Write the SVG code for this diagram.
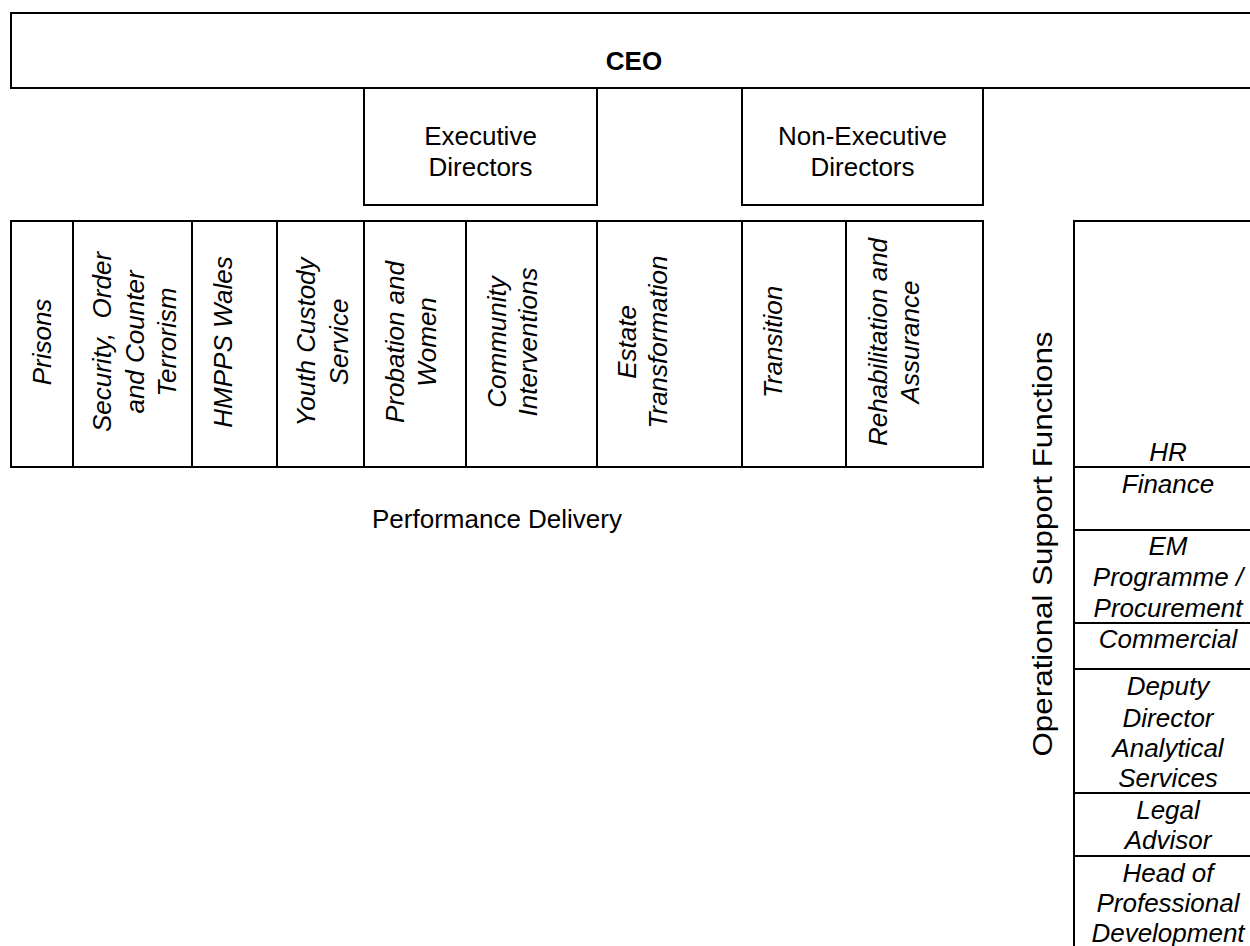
<svg xmlns="http://www.w3.org/2000/svg" width="1250" height="946" viewBox="0 0 1250 946">
<style>
.box{fill:#fff;stroke:#000;stroke-width:2}
.ln{fill:none;stroke:#000;stroke-width:2}
text{font-family:"Liberation Sans",Arial,sans-serif;font-size:26px;fill:#000}
.it{font-style:italic}
.c{text-anchor:middle}
.b{font-weight:bold}
</style>
<rect width="1250" height="946" fill="#fff"/>
<g id="ceo">
<rect class="box" x="11" y="13" width="1245" height="75"/>
<text class="c b" x="634" y="69.5">CEO</text>
</g>
<g id="executive-directors">
<rect class="box" x="364" y="88" width="233" height="117"/>
<text class="c" x="480.5" y="145">Executive</text>
<text class="c" x="480.5" y="176">Directors</text>
</g>
<g id="non-executive-directors">
<rect class="box" x="742" y="88" width="241" height="117"/>
<text class="c" x="862.5" y="145">Non-Executive</text>
<text class="c" x="862.5" y="176">Directors</text>
</g>
<g id="performance-delivery">
<rect class="box" x="11" y="221" width="972" height="246"/>
<g id="col-prisons"><line class="ln" x1="73" y1="221" x2="73" y2="467"/>
<text class="it c" transform="translate(0,342) rotate(-90)"><tspan x="0" y="50.5">Prisons</tspan></text></g>
<g id="col-security"><line class="ln" x1="192" y1="221" x2="192" y2="467"/>
<text class="it c" transform="translate(0,342) rotate(-90)" xml:space="preserve"><tspan x="0" y="111">Security,  Order</tspan><tspan x="0" y="143.5">and Counter</tspan><tspan x="0" y="176">Terrorism</tspan></text></g>
<g id="col-wales"><line class="ln" x1="277" y1="221" x2="277" y2="467"/>
<text class="it c" transform="translate(0,342) rotate(-90)"><tspan x="0" y="231.5">HMPPS Wales</tspan></text></g>
<g id="col-youth"><line class="ln" x1="364" y1="221" x2="364" y2="467"/>
<text class="it c" transform="translate(0,342) rotate(-90)"><tspan x="0" y="315">Youth Custody</tspan><tspan x="0" y="347.5">Service</tspan></text></g>
<g id="col-probation"><line class="ln" x1="466" y1="221" x2="466" y2="467"/>
<text class="it c" transform="translate(0,342) rotate(-90)"><tspan x="0" y="403.5">Probation and</tspan><tspan x="0" y="435.5">Women</tspan></text></g>
<g id="col-community"><line class="ln" x1="597" y1="221" x2="597" y2="467"/>
<text class="it c" transform="translate(0,342) rotate(-90)"><tspan x="0" y="506">Community</tspan><tspan x="0" y="537">Interventions</tspan></text></g>
<g id="col-estate"><line class="ln" x1="742" y1="221" x2="742" y2="467"/>
<text class="it c" transform="translate(0,342) rotate(-90)"><tspan x="0" y="636">Estate</tspan><tspan x="0" y="667">Transformation</tspan></text></g>
<g id="col-transition"><line class="ln" x1="846" y1="221" x2="846" y2="467"/>
<text class="it c" transform="translate(0,342) rotate(-90)"><tspan x="0" y="782">Transition</tspan></text></g>
<g id="col-rehab">
<text class="it c" transform="translate(0,342) rotate(-90)"><tspan x="0" y="887">Rehabilitation and</tspan><tspan x="0" y="919">Assurance</tspan></text></g>
<text class="c" x="497" y="528">Performance Delivery</text>
</g>
<g id="operational-support">
<rect class="box" x="1074" y="221" width="190" height="740"/>
<text class="c" transform="translate(0,544) rotate(-90)" x="0" y="1052" textLength="425" lengthAdjust="spacingAndGlyphs" style="font-size:28px">Operational Support Functions</text>
<g id="hr"><text class="it c" x="1168" y="461">HR</text></g>
<g id="finance"><line class="ln" x1="1074" y1="467" x2="1260" y2="467"/><text class="it c" x="1168" y="493">Finance</text></g>
<g id="em"><line class="ln" x1="1074" y1="530" x2="1260" y2="530"/><text class="it c" x="1168" y="555">EM</text><text class="it c" x="1168" y="586">Programme /</text><text class="it c" x="1168" y="617">Procurement</text></g>
<g id="commercial"><line class="ln" x1="1074" y1="623" x2="1260" y2="623"/><text class="it c" x="1168" y="648">Commercial</text></g>
<g id="analytical"><line class="ln" x1="1074" y1="669" x2="1260" y2="669"/><text class="it c" x="1168" y="695">Deputy</text><text class="it c" x="1168" y="726.5">Director</text><text class="it c" x="1168" y="757">Analytical</text><text class="it c" x="1168" y="787">Services</text></g>
<g id="legal"><line class="ln" x1="1074" y1="793" x2="1260" y2="793"/><text class="it c" x="1168" y="819">Legal</text><text class="it c" x="1168" y="849">Advisor</text></g>
<g id="professional"><line class="ln" x1="1074" y1="856" x2="1260" y2="856"/><text class="it c" x="1168" y="881.5">Head of</text><text class="it c" x="1168" y="912">Professional</text><text class="it c" x="1168" y="942">Development</text></g>
</g>
<g id="connectors"/>
</svg>
